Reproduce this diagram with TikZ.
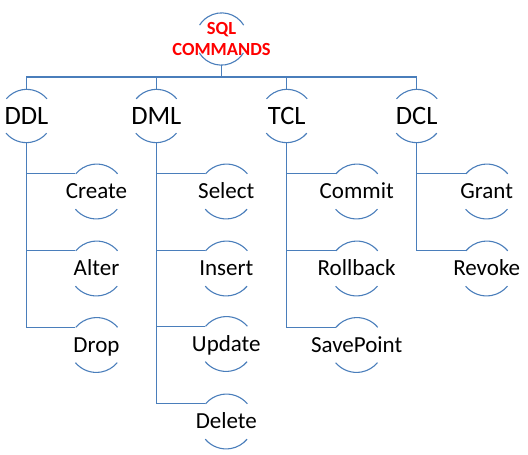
\documentclass[tikz,border=0pt]{standalone}
\usepackage{fontspec}
\setmainfont{Carlito}
\definecolor{linec}{RGB}{74,126,187}
\definecolor{rootred}{RGB}{255,0,0}
\tikzset{
  ring/.style={circle,inner sep=0pt,minimum size=#1},
  conn/.style={draw=linec,line width=1.1pt},
  arcline/.style={draw=linec,line width=1.1pt},
  rootlbl/.style={text=rootred,font=\fontsize{18.5}{20.5}\selectfont\bfseries,align=center,inner sep=0pt},
  lvlone/.style={font=\fontsize{26.5}{30}\selectfont,text height=17.1pt,text depth=0pt,inner sep=0pt},
  lvltwo/.style={font=\fontsize{23}{26}\selectfont,text height=14.8pt,text depth=0pt,inner sep=0pt},
}
\begin{document}
\begin{tikzpicture}[x=1pt,y=-1pt]
\useasboundingbox (0,0) rectangle (528,455);
% rings
\node[ring=52pt] (root) at (221.5,39) {};
\node[ring=53pt] (ddl) at (26.5,116) {};
\node[ring=53pt] (dml) at (156.3,116) {};
\node[ring=53pt] (tcl) at (286.7,116) {};
\node[ring=53pt] (dcl) at (416.7,116) {};
\node[ring=54.6pt] (create) at (96.5,191.5) {};
\node[ring=54.6pt] (alter) at (96.5,268.5) {};
\node[ring=54.6pt] (drop) at (96.5,345) {};
\node[ring=54.6pt] (select) at (226.3,191.5) {};
\node[ring=54.6pt] (insert) at (226.3,268.5) {};
\node[ring=54.6pt] (update) at (226.3,344) {};
\node[ring=54.6pt] (delete) at (226.3,421.5) {};
\node[ring=54.6pt] (commit) at (356.7,191.5) {};
\node[ring=54.6pt] (rollback) at (356.7,268.5) {};
\node[ring=54.6pt] (savepoint) at (356.7,345) {};
\node[ring=54.6pt] (grant) at (486.7,191.5) {};
\node[ring=54.6pt] (revoke) at (486.7,268.5) {};
% arcs
\draw[arcline] (root.32) arc[start angle=32,end angle=148,radius=26pt]
  (root.212) arc[start angle=212,end angle=328,radius=26pt];
\foreach \n in {ddl,dml,tcl,dcl}
  \draw[arcline] (\n.40) arc[start angle=40,end angle=140,radius=26.5pt]
    (\n.220) arc[start angle=220,end angle=320,radius=26.5pt];
\foreach \n in {create,alter,drop,select,insert,update,delete,commit,rollback,savepoint,grant,revoke}
  \draw[arcline] (\n.40) arc[start angle=40,end angle=140,radius=27.3pt]
    (\n.220) arc[start angle=220,end angle=320,radius=27.3pt];
% texts
\node[rootlbl] (roott) at (root) {SQL\\COMMANDS};
\node[lvlone] (ddlt) at (ddl) {DDL};
\node[lvlone] (dmlt) at (dml) {DML};
\node[lvlone] (tclt) at (tcl) {TCL};
\node[lvlone] (dclt) at (dcl) {DCL};
\node[lvltwo] (createt) at (create) {Create};
\node[lvltwo] (altert) at (alter) {Alter};
\node[lvltwo] (dropt) at (drop) {Drop};
\node[lvltwo] (selectt) at (select) {Select};
\node[lvltwo] (insertt) at (insert) {Insert};
\node[lvltwo] (updatet) at (update) {Update};
\node[lvltwo] (deletet) at (delete) {Delete};
\node[lvltwo] (committ) at (commit) {Commit};
\node[lvltwo] (rollbackt) at (rollback) {Rollback};
\node[lvltwo] (savepointt) at (savepoint) {SavePoint};
\node[lvltwo] (grantt) at (grant) {Grant};
\node[lvltwo] (revoket) at (revoke) {Revoke};
% connectors
\coordinate (bus) at (0,77);
\draw[conn] (root.south) -- (root.south |- bus);
\draw[conn] (ddl.north) -- (ddl.north |- bus) -- (dcl.north |- bus) -- (dcl.north);
\draw[conn] (dml.north) -- (dml.north |- bus);
\draw[conn] (tcl.north) -- (tcl.north |- bus);
\foreach \p/\c in {ddl/create,ddl/alter,ddl/drop,dml/select,dml/insert,dml/update,dml/delete,tcl/commit,tcl/rollback,tcl/savepoint,dcl/grant,dcl/revoke}
  \draw[conn] (\p.south) |- (\c.140);
\end{tikzpicture}
\end{document}
